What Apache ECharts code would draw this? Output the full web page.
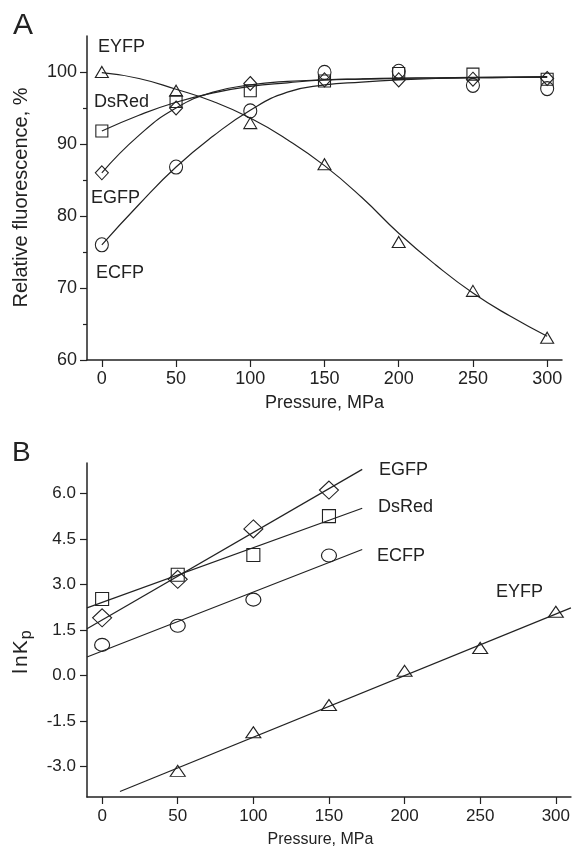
<!DOCTYPE html>
<html>
<head>
<meta charset="utf-8">
<script src="https://cdn.jsdelivr.net/npm/echarts@6/dist/echarts.min.js"></script>
<style>
html,body{margin:0;padding:0;background:#fff;}
#chart{width:573px;height:850px;}
</style>
</head>
<body>
<div id="chart"></div>
<script>
// ---------- Panel A data ----------
var pressureA = [0, 50, 100, 150, 200, 250, 300];
var eyfpA  = [100.0, 97.4, 92.9, 87.2, 76.4, 69.6, 63.1];
var dsredA = [91.8, 95.9, 97.4, 98.75, 99.8, 99.7, 99.0];
var egfpA  = [86.0, 95.0, 98.4, 98.9, 98.9, 99.0, 99.1];
var ecfpA  = [76.0, 86.8, 94.6, 99.95, 100.1, 98.15, 97.7];

// fitted curves, values
var fitXA     = [0, 25, 50, 75, 100, 125, 150, 175, 200, 225, 250, 275, 300];
var eyfpFitA  = [99.9, 99.1, 97.6, 95.9, 93.6, 90.6, 87.0, 82.6, 77.6, 73.2, 69.3, 66.1, 63.3];
var dsredFitA = [91.8, 94.0, 95.8, 97.1, 98.0, 98.5, 98.9, 99.05, 99.15, 99.2, 99.25, 99.3, 99.35];
var egfpFitA  = [86.0, 91.2, 95.0, 97.2, 98.2, 98.7, 98.9, 99.0, 99.1, 99.15, 99.2, 99.25, 99.3];
var ecfpFitA  = [76.0, 81.6, 86.8, 91.1, 94.7, 97.2, 98.2, 98.6, 98.9, 99.1, 99.2, 99.25, 99.3];

var xTicksA = [0, 50, 100, 150, 200, 250, 300];
var yTicksA = [60, 70, 80, 90, 100];
var yMinorTicksA = [65, 75, 85, 95];

// ---------- Panel B data ----------
var pressureB = [0, 50, 100, 150];
var egfpB  = [1.90, 3.17, 4.83, 6.11];
var dsredB = [2.52, 3.32, 3.97, 5.25];
var ecfpB  = [1.01, 1.64, 2.50, 3.95];
var pressureEyfpB = [50, 100, 150, 200, 250, 300];
var eyfpB  = [-3.14, -1.87, -0.97, 0.155, 0.91, 2.10];

// regression lines: end points
var fitXB      = [-10, 172];
var egfpFitB   = [1.54, 6.79];
var dsredFitB  = [2.23, 5.51];
var ecfpFitB   = [0.61, 4.15];
var fitXEyfpB  = [11.8, 310];
var eyfpFitB   = [-3.82, 2.23];

var xTicksB = [0, 50, 100, 150, 200, 250, 300];
var yTicksB = [-3, -1.5, 0, 1.5, 3, 4.5, 6];

// ---------- helpers ----------
var INK = '#222';
var FONT = 'Liberation Sans, Arial, Helvetica, sans-serif';
function zip(xs, ys) { return xs.map(function (x, i) { return [x, ys[i]]; }); }
function fitLine(name, xs, ys, xi, yi, smooth) {
  return {
    name: name, type: 'line', xAxisIndex: xi, yAxisIndex: yi,
    data: zip(xs, ys), showSymbol: false, smooth: smooth ? 0.5 : false,
    silent: true,
    lineStyle: { color: INK, width: 1.2 }, z: 2
  };
}
function marks(name, xs, ys, xi, yi, symbol, size) {
  return {
    name: name, type: 'scatter', xAxisIndex: xi, yAxisIndex: yi,
    data: zip(xs, ys), symbol: symbol, symbolSize: size, silent: true,
    itemStyle: { color: 'rgba(255,255,255,0)', borderColor: INK, borderWidth: 1.1, opacity: 1 },
    z: 3
  };
}
function label(text, x, y, size) {
  return { type: 'text', x: x, y: y, silent: true,
    style: { text: text, fill: INK, fontSize: size, fontFamily: FONT,
      align: 'left', verticalAlign: 'middle', textAlign: 'left', textVerticalAlign: 'middle' } };
}
function ctext(text, x, y, size, rot) {
  return { type: 'text', x: x, y: y, rotation: rot || 0, silent: true,
    style: { text: text, fill: INK, fontSize: size, fontFamily: FONT,
      align: 'center', verticalAlign: 'middle', textAlign: 'center', textVerticalAlign: 'middle' } };
}
var axisLineStyle = { show: true, onZero: false, lineStyle: { color: INK, width: 1.5 } };

var chart = echarts.init(document.getElementById('chart'), null, { renderer: 'canvas' });
chart.setOption({
  animation: false,
  backgroundColor: '#fff',
  grid: [
    { left: 87, top: 36, width: 475, height: 324 },
    { left: 87, top: 463, width: 486, height: 334 }
  ],
  xAxis: [
    { gridIndex: 0, type: 'value', min: -10, max: 310, position: 'bottom',
      axisLine: axisLineStyle,
      axisTick: { show: true, customValues: xTicksA, length: 7, lineStyle: { color: INK, width: 1.2 } },
      axisLabel: { customValues: xTicksA, color: INK, fontSize: 18, fontFamily: FONT, margin: 10 },
      splitLine: { show: false } },
    { gridIndex: 1, type: 'value', min: -10, max: 310, position: 'bottom',
      axisLine: axisLineStyle,
      axisTick: { show: true, customValues: xTicksB, length: 7, lineStyle: { color: INK, width: 1.2 } },
      axisLabel: { customValues: xTicksB, color: INK, fontSize: 17, fontFamily: FONT, margin: 11 },
      splitLine: { show: false } }
  ],
  yAxis: [
    { gridIndex: 0, type: 'value', min: 60, max: 105, position: 'left',
      axisLine: axisLineStyle,
      axisTick: { show: true, customValues: yTicksA, length: 7, lineStyle: { color: INK, width: 1.2 } },
      axisLabel: { customValues: yTicksA, color: INK, fontSize: 18, fontFamily: FONT, margin: 10 },
      splitLine: { show: false } },
    { gridIndex: 1, type: 'value', min: -4, max: 7, position: 'left',
      axisLine: axisLineStyle,
      axisTick: { show: true, customValues: yTicksB, length: 7, lineStyle: { color: INK, width: 1.2 } },
      axisLabel: { customValues: yTicksB, color: INK, fontSize: 17, fontFamily: FONT, margin: 11,
        formatter: function (v) { return Number(v).toFixed(1); } },
      splitLine: { show: false } },
    { gridIndex: 0, type: 'value', min: 60, max: 105, position: 'left', offset: 0,
      axisLine: { show: false, onZero: false },
      axisTick: { show: true, customValues: yMinorTicksA, length: 4, lineStyle: { color: INK, width: 1.2 } },
      axisLabel: { show: false },
      splitLine: { show: false } }
  ],
  series: [
    fitLine('EYFP fit', fitXA, eyfpFitA, 0, 0, true),
    fitLine('DsRed fit', fitXA, dsredFitA, 0, 0, true),
    fitLine('EGFP fit', fitXA, egfpFitA, 0, 0, true),
    fitLine('ECFP fit', fitXA, ecfpFitA, 0, 0, true),
    marks('EYFP', pressureA, eyfpA, 0, 0, 'triangle', [13, 11]),
    marks('DsRed', pressureA, dsredA, 0, 0, 'rect', [12, 12]),
    marks('EGFP', pressureA, egfpA, 0, 0, 'diamond', [13, 14]),
    marks('ECFP', pressureA, ecfpA, 0, 0, 'circle', [13, 14]),

    fitLine('EGFP fit B', fitXB, egfpFitB, 1, 1, false),
    fitLine('DsRed fit B', fitXB, dsredFitB, 1, 1, false),
    fitLine('ECFP fit B', fitXB, ecfpFitB, 1, 1, false),
    fitLine('EYFP fit B', fitXEyfpB, eyfpFitB, 1, 1, false),
    marks('EGFP B', pressureB, egfpB, 1, 1, 'diamond', [19, 18]),
    marks('DsRed B', pressureB, dsredB, 1, 1, 'rect', [13, 13]),
    marks('ECFP B', pressureB, ecfpB, 1, 1, 'circle', [15, 13]),
    marks('EYFP B', pressureEyfpB, eyfpB, 1, 1, 'triangle', [15, 11])
  ],
  graphic: [
    label('A', 13, 26, 30),
    label('B', 12, 453, 28),
    label('EYFP', 98, 47, 18),
    label('DsRed', 94, 102, 18),
    label('EGFP', 91, 198, 18),
    label('ECFP', 96, 273, 18),
    label('EGFP', 379, 470, 18),
    label('DsRed', 378, 507, 18),
    label('ECFP', 377, 556, 18),
    label('EYFP', 496, 592, 18),
    ctext('Relative fluorescence, %', 21.5, 197.5, 20, Math.PI / 2),
    ctext('Pressure, MPa', 324.5, 403, 18, 0),
    ctext('Pressure, MPa', 320.5, 839.5, 16, 0),
    { type: 'text', x: 21, y: 652, rotation: Math.PI / 2, silent: true,
      style: { text: '{a|l}{b|n}{c|K}{d|p}', fill: INK, fontFamily: FONT,
        align: 'center', verticalAlign: 'middle', textAlign: 'center', textVerticalAlign: 'middle',
        rich: {
          a: { fontSize: 21, fontFamily: FONT, fill: INK, color: INK, lineHeight: 28, verticalAlign: 'middle', padding: [0, 2, 0, 0] },
          b: { fontSize: 21, fontFamily: FONT, fill: INK, color: INK, lineHeight: 28, verticalAlign: 'middle', padding: [0, 1, 0, 0] },
          c: { fontSize: 21, fontFamily: FONT, fill: INK, color: INK, lineHeight: 28, verticalAlign: 'middle', padding: [0, 1, 0, 0] },
          d: { fontSize: 16, fontFamily: FONT, fill: INK, color: INK, lineHeight: 16, verticalAlign: 'bottom' }
        } } }
  ]
});
</script>
</body>
</html>
